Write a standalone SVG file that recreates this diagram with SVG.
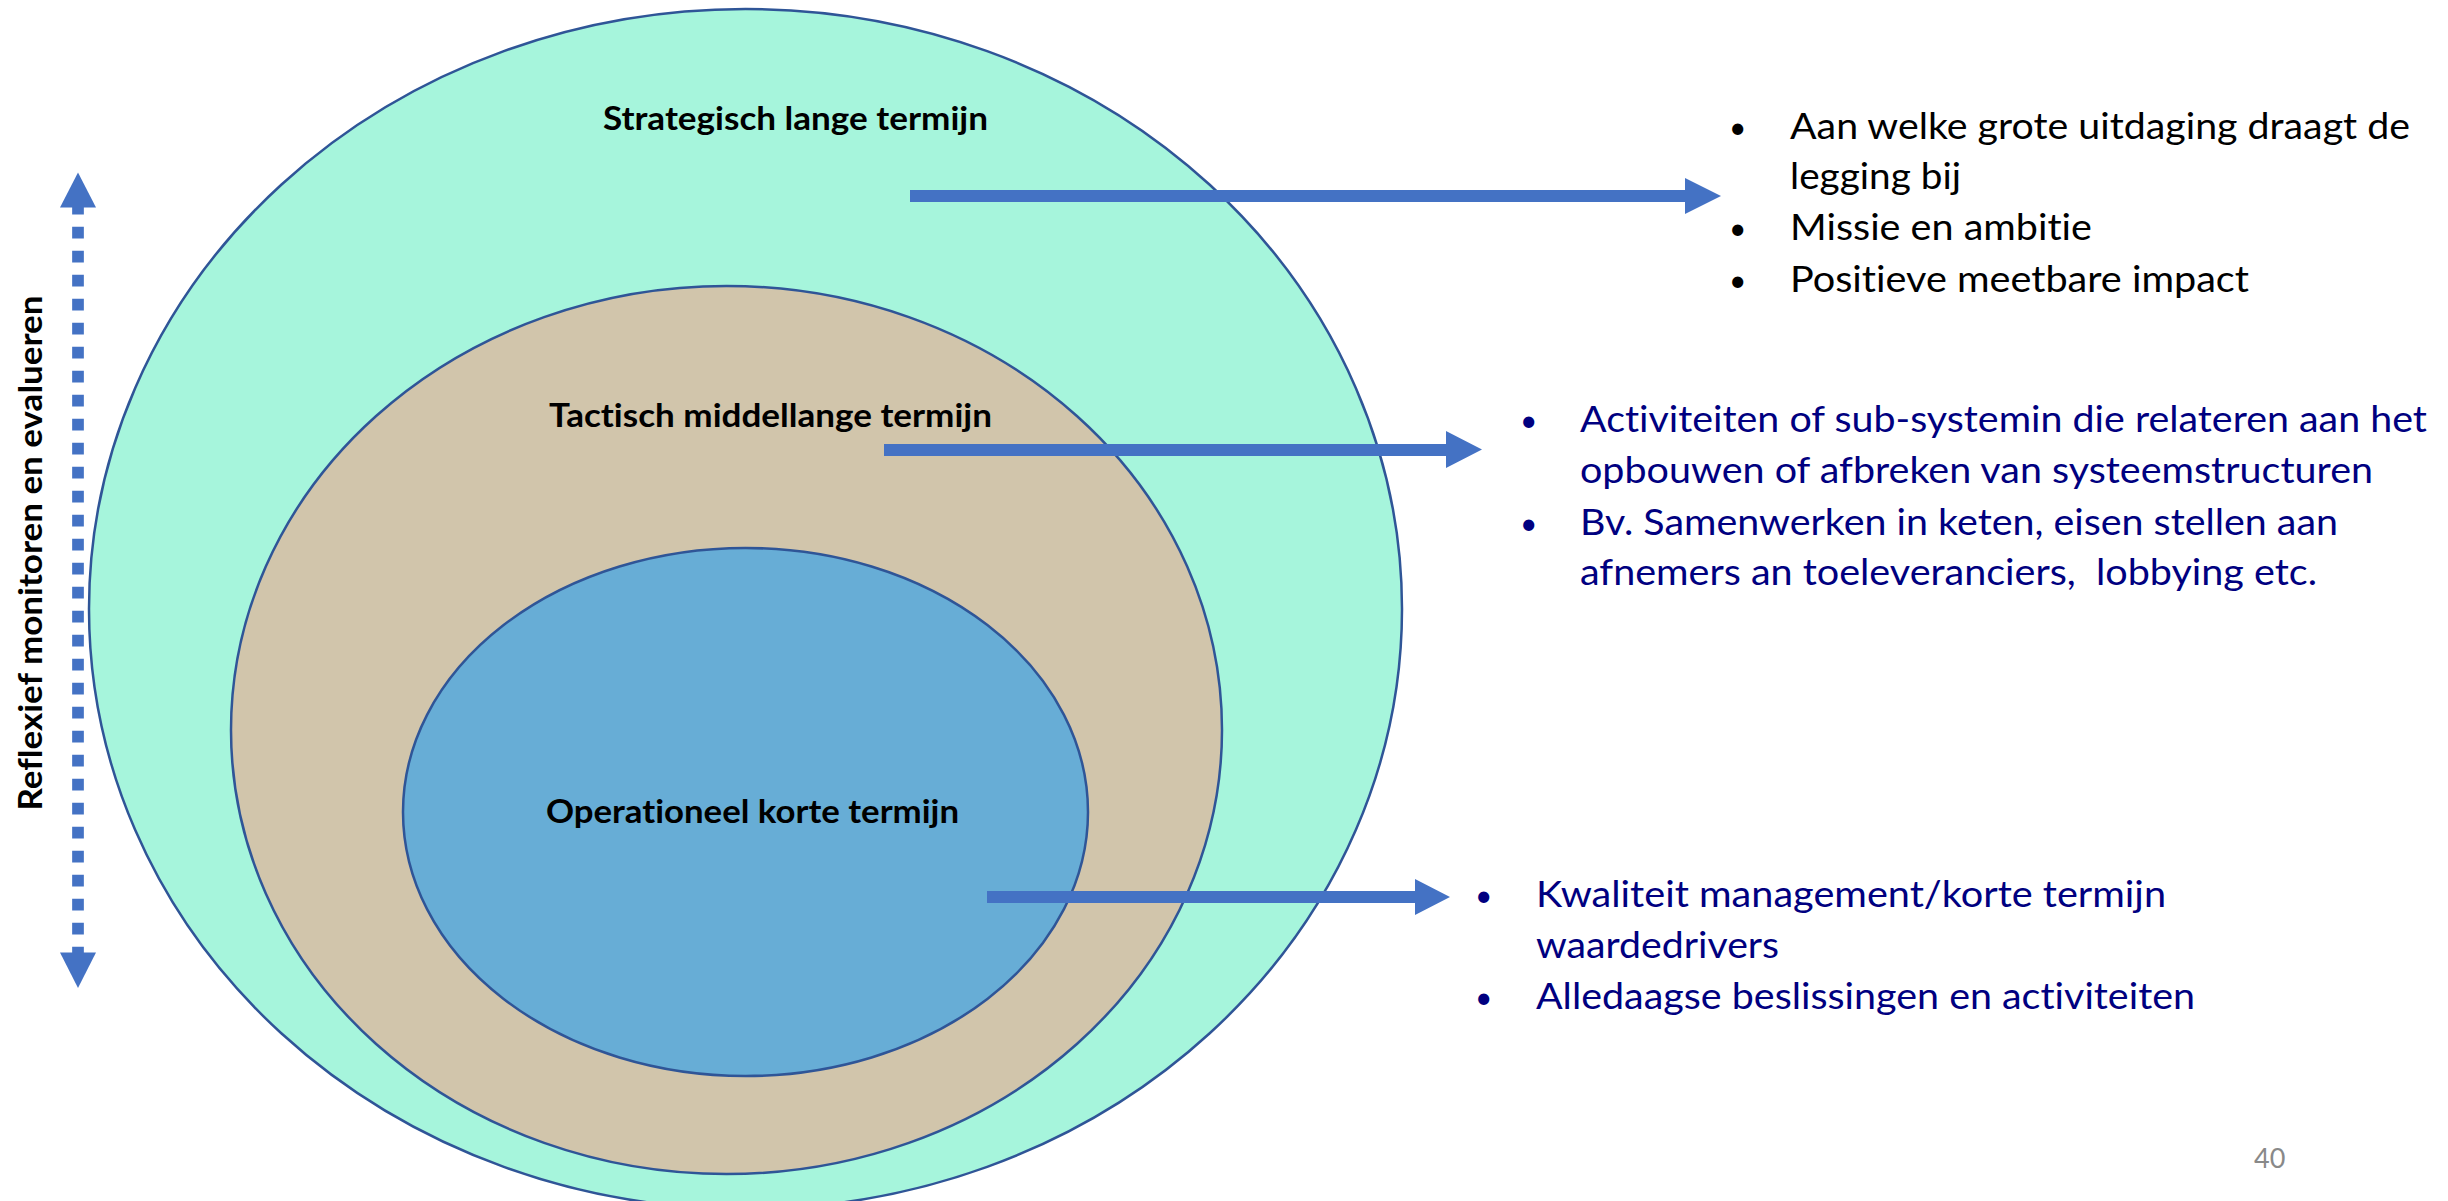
<svg xmlns="http://www.w3.org/2000/svg" width="2448" height="1201" viewBox="0 0 2448 1201">
  <style>
    text { font-variant-ligatures: none; font-feature-settings: "liga" 0, "dlig" 0; }
    .ring { stroke: #2F5597; stroke-width: 2.5; }
    .lbl { font-family: Lato, "Liberation Sans", sans-serif; font-weight: bold; font-size: 33px; fill: #000000; }
    .lst { font-family: Lato, "Liberation Sans", sans-serif; font-size: 36px; }
    .bul { font-size: 30px; }
    .blk { fill: #000000; }
    .nvy { fill: #000080; }
    .arr { fill: #4472C4; }
    .pg { font-family: Lato, "Liberation Sans", sans-serif; font-size: 27px; fill: #898989; }
  </style>
  <rect width="2448" height="1201" fill="#FFFFFF"/>

  <g id="node-strategisch">
    <ellipse class="ring" cx="745.5" cy="609" rx="656.5" ry="600" fill="#A6F5DC"/>
    <text class="lbl" x="603" y="130" textLength="385" lengthAdjust="spacingAndGlyphs">Strategisch lange termijn</text>
  </g>
  <g id="node-tactisch">
    <ellipse class="ring" cx="726.5" cy="730" rx="495.5" ry="444" fill="#D1C5AB"/>
    <text class="lbl" x="549" y="427" textLength="443" lengthAdjust="spacingAndGlyphs">Tactisch middellange termijn</text>
  </g>
  <g id="node-operationeel">
    <ellipse class="ring" cx="745.5" cy="812" rx="342.5" ry="264" fill="#67ADD6"/>
    <text class="lbl" x="546" y="823" textLength="413" lengthAdjust="spacingAndGlyphs">Operationeel korte termijn</text>
  </g>

  <g id="connectors">
    <polygon class="arr" points="910,190 1685,190 1685,178 1721,196 1685,214 1685,202 910,202"/>
    <polygon class="arr" points="884,444 1446,444 1446,431 1482,449.5 1446,468 1446,456 884,456"/>
    <polygon class="arr" points="987,891 1415,891 1415,879 1450,897 1415,915 1415,903 987,903"/>
    <g id="monitor-arrow">
      <line x1="78" y1="207" x2="78" y2="953" stroke="#4472C4" stroke-width="11.7" stroke-dasharray="11.7 12.3" stroke-dashoffset="4.3"/>
      <polygon class="arr" points="60,207.5 78,172.5 96,207.5"/>
      <polygon class="arr" points="60,952.5 78,988 96,952.5"/>
    </g>
  </g>

  <g id="node-reflexief">
    <text class="lbl" transform="translate(42,553) rotate(-90)" x="-257.5" y="0" font-size="37" textLength="515" lengthAdjust="spacingAndGlyphs">Reflexief monitoren en evalueren</text>
  </g>

  <g id="node-list-strategisch" class="lst blk">
    <text class="bul" x="1729" y="138">•</text>
    <text x="1790" y="139" textLength="620" lengthAdjust="spacingAndGlyphs">Aan welke grote uitdaging draagt de</text>
    <text x="1790" y="189" textLength="171" lengthAdjust="spacingAndGlyphs">legging bij</text>
    <text class="bul" x="1729" y="239">•</text>
    <text x="1790" y="240" textLength="302" lengthAdjust="spacingAndGlyphs">Missie en ambitie</text>
    <text class="bul" x="1729" y="291">•</text>
    <text x="1790" y="292" textLength="459" lengthAdjust="spacingAndGlyphs">Positieve meetbare impact</text>
  </g>

  <g id="node-list-tactisch" class="lst nvy">
    <text class="bul" x="1520" y="431">•</text>
    <text x="1580" y="432" textLength="847" lengthAdjust="spacingAndGlyphs">Activiteiten of sub-systemin die relateren aan het</text>
    <text x="1580" y="483" textLength="793" lengthAdjust="spacingAndGlyphs">opbouwen of afbreken van systeemstructuren</text>
    <text class="bul" x="1520" y="534">•</text>
    <text x="1580" y="535" textLength="758" lengthAdjust="spacingAndGlyphs">Bv. Samenwerken in keten, eisen stellen aan</text>
    <text x="1580" y="585" xml:space="preserve" textLength="737" lengthAdjust="spacingAndGlyphs">afnemers an toeleveranciers,  lobbying etc.</text>
  </g>

  <g id="node-list-operationeel" class="lst nvy">
    <text class="bul" x="1475" y="906">•</text>
    <text x="1536" y="907" textLength="630" lengthAdjust="spacingAndGlyphs">Kwaliteit management/korte termijn</text>
    <text x="1536" y="958" textLength="243" lengthAdjust="spacingAndGlyphs">waardedrivers</text>
    <text class="bul" x="1475" y="1008">•</text>
    <text x="1536" y="1009" textLength="659" lengthAdjust="spacingAndGlyphs">Alledaagse beslissingen en activiteiten</text>
  </g>

  <g id="page-number">
    <text class="pg" x="2254" y="1168">40</text>
  </g>
</svg>
